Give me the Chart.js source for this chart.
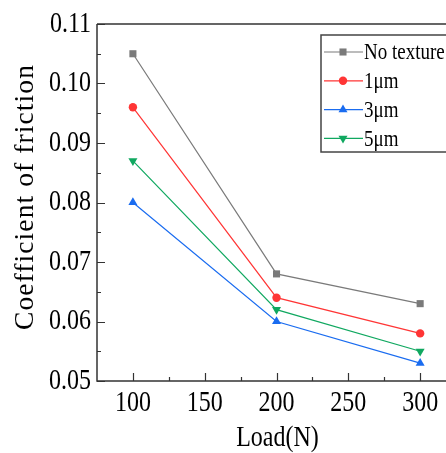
<!DOCTYPE html>
<html>
<head>
<meta charset="utf-8">
<script src="https://cdn.jsdelivr.net/npm/chart.js@4.4.1/dist/chart.umd.min.js"></script>
<style>
  html, body { margin: 0; padding: 0; background: #fff; overflow: hidden; }
  #wrap { width: 446px; height: 453px; }
</style>
</head>
<body>
<div id="wrap"><canvas id="c" width="446" height="453"></canvas></div>
<script>
'use strict';

// ---------------------------------------------------------------------------
// Data
// ---------------------------------------------------------------------------
const loads      = [100, 200, 300];
const noTexture  = [0.105, 0.068, 0.063];
const texture1   = [0.096, 0.064, 0.058];
const texture3   = [0.080, 0.060, 0.053];
const texture5   = [0.087, 0.062, 0.055];
const seriesNames = ['No texture', '1\u03bcm', '3\u03bcm', '5\u03bcm'];
const xTickValues = [100, 150, 200, 250, 300];
const yTickValues = [0.05, 0.06, 0.07, 0.08, 0.09, 0.10, 0.11];
const xTitle = 'Load(N)';
const yTitle = 'Coefficient of friction';

const FONT = "'Liberation Serif', 'Times New Roman', serif";
const AXIS = '#333';
const STRETCH = 1.2;   // reference text is taller than it is wide

const styles = [
  { color: '#7a7a7a', pointStyle: 'rect',     radius: 5,   rotation: 0 },
  { color: '#ff3535', pointStyle: 'circle',   radius: 4.2, rotation: 0 },
  { color: '#1a6cf0', pointStyle: 'triangle', radius: 5.2, rotation: 0 },
  { color: '#10a860', pointStyle: 'triangle', radius: 5.2, rotation: 180 },
];

const seriesValues = [noTexture, texture1, texture3, texture5];

function toPoints(vals) {
  return loads.map((x, i) => ({ x, y: vals[i] }));
}

// draw text stretched vertically around (x, y)
function tallText(ctx, text, x, y, align, sy) {
  ctx.save();
  ctx.translate(x, y);
  ctx.scale(1, sy);
  ctx.textAlign = align;
  ctx.textBaseline = 'middle';
  ctx.fillText(text, 0, 0);
  ctx.restore();
}

// ---------------------------------------------------------------------------
// Plugins: boxed axes with inward ticks, labels, titles, legend box
// ---------------------------------------------------------------------------
const frame = {
  id: 'frame',
  beforeDatasetsDraw(chart) {
    const { ctx, chartArea: a, scales: { x, y } } = chart;
    ctx.save();
    ctx.strokeStyle = AXIS;
    ctx.lineWidth = 1.5;
    ctx.beginPath();
    ctx.moveTo(a.left, a.top);
    ctx.lineTo(a.right, a.top);
    ctx.moveTo(a.left, a.top);
    ctx.lineTo(a.left, a.bottom);
    ctx.lineTo(a.right, a.bottom);
    ctx.stroke();

    ctx.lineWidth = 1.2;
    ctx.beginPath();
    for (let v = 100; v <= 300; v += 25) {
      const px = Math.round(x.getPixelForValue(v)) + 0.5;
      const len = v % 50 === 0 ? 8 : 4;
      ctx.moveTo(px, a.bottom);
      ctx.lineTo(px, a.bottom - len);
    }
    for (let k = 10; k <= 22; k++) {
      const py = Math.round(y.getPixelForValue(k * 0.005)) + 0.5;
      const len = k % 2 === 0 ? 8 : 4;
      ctx.moveTo(a.left, py);
      ctx.lineTo(a.left + len, py);
    }
    ctx.stroke();

    ctx.fillStyle = '#000';
    ctx.font = '24px ' + FONT;
    xTickValues.forEach(v => tallText(ctx, String(v), x.getPixelForValue(v), 403, 'center', STRETCH));
    yTickValues.forEach(v => tallText(ctx, v.toFixed(2), a.left - 6, y.getPixelForValue(v), 'right', STRETCH));
    tallText(ctx, xTitle, x.getPixelForValue(200) + 1, 438, 'center', STRETCH);

    ctx.font = '25px ' + FONT;
    ctx.translate(26, 197);
    ctx.rotate(-Math.PI / 2);
    ctx.scale(1.1, 1.1);
    ctx.letterSpacing = '1px';
    ctx.textAlign = 'center';
    ctx.textBaseline = 'middle';
    ctx.fillText(yTitle, 0, 0);
    ctx.restore();
  },
};

function drawMarker(ctx, s, cx, cy) {
  ctx.fillStyle = s.color;
  ctx.beginPath();
  if (s.pointStyle === 'rect') {
    const h = s.radius * Math.SQRT1_2;
    ctx.rect(cx - h, cy - h, 2 * h, 2 * h);
  } else if (s.pointStyle === 'circle') {
    ctx.arc(cx, cy, s.radius, 0, Math.PI * 2);
  } else {
    const r = s.radius;
    const dir = s.rotation ? 1 : -1;
    ctx.moveTo(cx, cy + dir * r);
    ctx.lineTo(cx - r * 0.866, cy - dir * r * 0.5);
    ctx.lineTo(cx + r * 0.866, cy - dir * r * 0.5);
    ctx.closePath();
  }
  ctx.fill();
}

const legendBox = {
  id: 'legendBox',
  afterDraw(chart) {
    const ctx = chart.ctx;
    ctx.save();
    ctx.fillStyle = '#fff';
    ctx.fillRect(321, 35, 130, 117);
    ctx.strokeStyle = '#444';
    ctx.lineWidth = 1.5;
    ctx.strokeRect(321, 35, 130, 117);
    ctx.font = '19px ' + FONT;
    seriesNames.forEach((name, i) => {
      const cy = 52 + i * 28.8;
      const s = styles[i];
      ctx.strokeStyle = s.color;
      ctx.lineWidth = 1.2;
      ctx.beginPath();
      ctx.moveTo(324, cy);
      ctx.lineTo(363, cy);
      ctx.stroke();
      drawMarker(ctx, s, 343, cy);
      ctx.fillStyle = '#000';
      tallText(ctx, name, 364, cy + 1, 'left', 1.25);
    });
    ctx.restore();
  },
};

// ---------------------------------------------------------------------------
// Chart
// ---------------------------------------------------------------------------
new Chart(document.getElementById('c'), {
  type: 'line',
  data: {
    datasets: seriesValues.map((vals, i) => ({
      label: seriesNames[i],
      data: toPoints(vals),
      borderColor: styles[i].color,
      backgroundColor: styles[i].color,
      borderWidth: 1.2,
      pointStyle: styles[i].pointStyle,
      pointRotation: styles[i].rotation,
      pointRadius: styles[i].radius,
      pointBorderWidth: 0,
      tension: 0,
      fill: false,
    })),
  },
  options: {
    responsive: false,
    animation: false,
    layout: { autoPadding: false, padding: { top: 24, right: 0, left: 0, bottom: 0 } },
    plugins: {
      legend:  { display: false },
      tooltip: { enabled: false },
    },
    scales: {
      x: {
        type: 'linear',
        min: 75,
        max: 318,
        afterBuildTicks: s => { s.ticks = xTickValues.map(v => ({ value: v })); },
        afterFit: s => { s.height = 72; },
        ticks: { display: false },
        grid: { display: false, drawTicks: false },
        border: { display: false },
      },
      y: {
        min: 0.05,
        max: 0.11,
        afterBuildTicks: s => { s.ticks = yTickValues.map(v => ({ value: v })); },
        afterFit: s => { s.width = 97; },
        ticks: { display: false },
        grid: { display: false, drawTicks: false },
        border: { display: false },
      },
    },
  },
  plugins: [frame, legendBox],
});
</script>
</body>
</html>
